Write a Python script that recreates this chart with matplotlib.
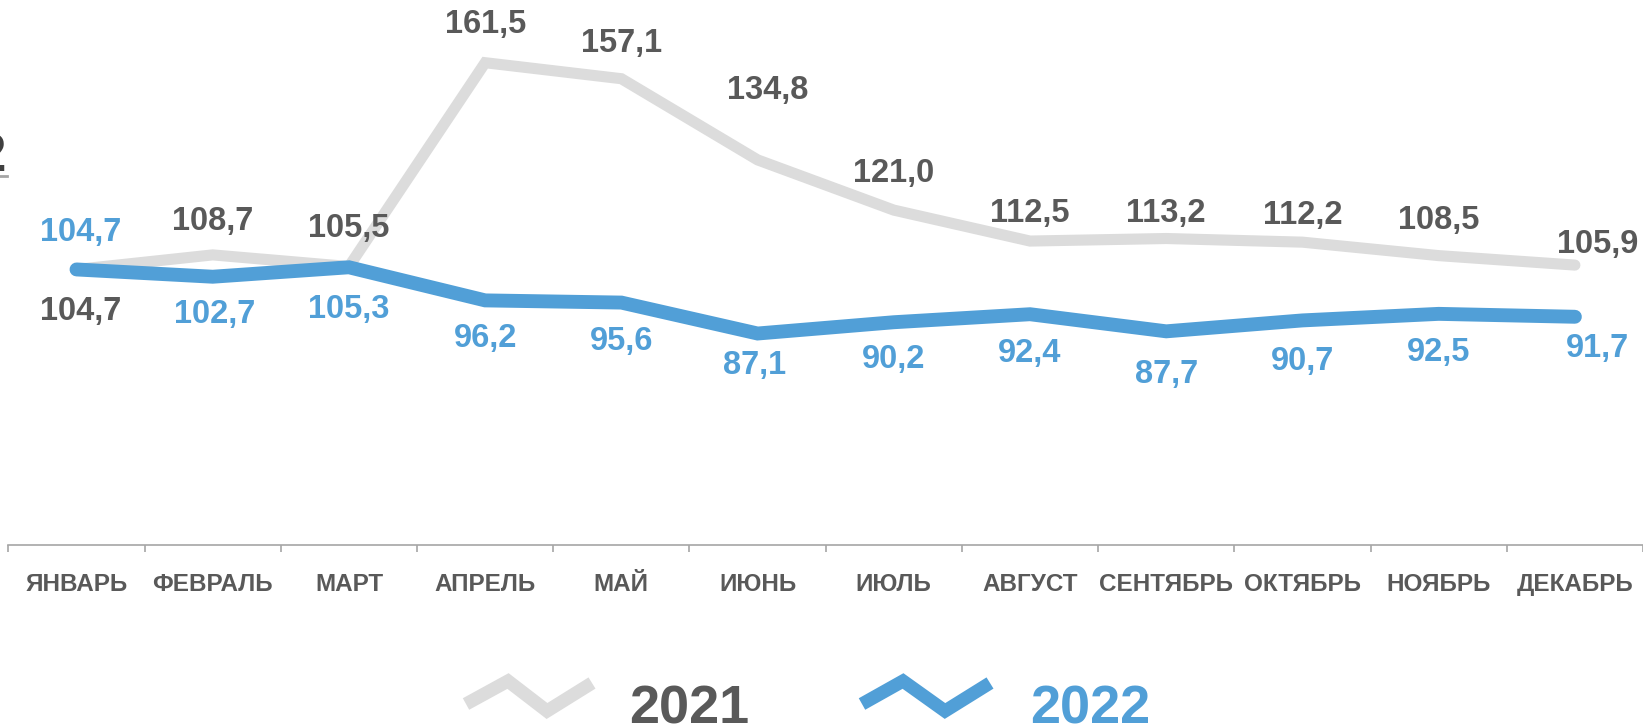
import matplotlib
matplotlib.use("Agg")
import matplotlib.pyplot as plt
from matplotlib.lines import Line2D

months = ["ЯНВАРЬ", "ФЕВРАЛЬ", "МАРТ", "АПРЕЛЬ", "МАЙ", "ИЮНЬ",
          "ИЮЛЬ", "АВГУСТ", "СЕНТЯБРЬ", "ОКТЯБРЬ", "НОЯБРЬ", "ДЕКАБРЬ"]
vals_2021 = [104.7, 108.7, 105.5, 161.5, 157.1, 134.8, 121.0, 112.5, 113.2, 112.2, 108.5, 105.9]
vals_2022 = [104.7, 102.7, 105.3, 96.2, 95.6, 87.1, 90.2, 92.4, 87.7, 90.7, 92.5, 91.7]

# label offsets in pixels (dx, dy), positive dy = up
off_2021 = [(4, -42), (0, 33), (0, 38), (0, 38), (0, 35), (10, 69),
            (0, 37), (0, 28), (0, 25), (0, 27), (0, 35), (23, 21)]
off_2022 = [(4, 37), (2, -38), (0, -42), (0, -38), (0, -39), (-3, -32),
            (0, -37), (0, -39), (0, -43), (0, -41), (0, -39), (23, -32)]

GRAY_LINE = "#dcdcdc"
BLUE = "#519fd7"
DARK = "#595959"
FONT = ["Liberation Sans", "DejaVu Sans"]

W, H = 1643, 727
fig = plt.figure(figsize=(W / 100, H / 100), dpi=100)
ax = fig.add_axes([8.4 / W, 1 - 545 / H, 1 - 8.4 / W, 545 / H])

x = list(range(len(months)))
ax.plot(x, vals_2021, color=GRAY_LINE, linewidth=8, solid_capstyle="round",
        solid_joinstyle="miter", zorder=2)
ax.plot(x, vals_2022, color=BLUE, linewidth=10, solid_capstyle="round",
        solid_joinstyle="miter", zorder=3)

for i, v in enumerate(vals_2021):
    dx, dy = off_2021[i]
    ax.annotate(f"{v:.1f}".replace(".", ","), (i, v), xytext=(dx, dy),
                textcoords="offset pixels", ha="center", va="center",
                fontsize=23.5, fontweight="bold", color=DARK, family=FONT,
                annotation_clip=False, zorder=4)
for i, v in enumerate(vals_2022):
    dx, dy = off_2022[i]
    ax.annotate(f"{v:.1f}".replace(".", ","), (i, v), xytext=(dx, dy),
                textcoords="offset pixels", ha="center", va="center",
                fontsize=23.5, fontweight="bold", color=BLUE, family=FONT,
                annotation_clip=False, zorder=4)

ax.set_xlim(-0.5, 11.5)
ax.set_ylim(29, 29 + 545 / 3.64)

for s in ["top", "right", "left"]:
    ax.spines[s].set_visible(False)
ax.spines["bottom"].set_color("#a6a6a6")
ax.spines["bottom"].set_linewidth(1.2)
ax.set_yticks([])

ax.set_xticks(x)
ax.set_xticklabels(months)
ax.set_xticks([i - 0.5 for i in range(len(months) + 1)], minor=True)
ax.tick_params(axis="x", which="major", length=0, pad=20)
ax.tick_params(axis="x", which="minor", length=5, width=1.2, color="#a6a6a6")
for lbl in ax.get_xticklabels():
    lbl.set_fontsize(17.5)
    lbl.set_fontweight("bold")
    lbl.set_color(DARK)
    lbl.set_family(FONT)

# cropped remnants at the left edge
fig.text(6 / W, 1 - 171 / H, "2", ha="right", va="baseline", fontsize=38,
         fontweight="bold", color="#404040", family=FONT)
fig.add_artist(Line2D([0, 7 / W], [1 - 176 / H, 1 - 176 / H], color="#a6a6a6", linewidth=2))

# legend
def zigzag(xs, color, lw):
    ys = [704, 681, 711, 683]
    fig.add_artist(Line2D([v / W for v in xs], [1 - v / H for v in ys], color=color,
                          linewidth=lw, solid_joinstyle="miter", solid_capstyle="butt"))

zigzag([466, 508, 547, 592], GRAY_LINE, 9.5)
zigzag([862, 903, 945, 990], BLUE, 9.5)
fig.text(629 / W, 1 - 724 / H, "2021", ha="left", va="baseline", fontsize=39,
         fontweight="bold", color=DARK, family=FONT)
fig.text(1030 / W, 1 - 724 / H, "2022", ha="left", va="baseline", fontsize=39,
         fontweight="bold", color=BLUE, family=FONT)

fig.savefig("out.png", dpi=100)
